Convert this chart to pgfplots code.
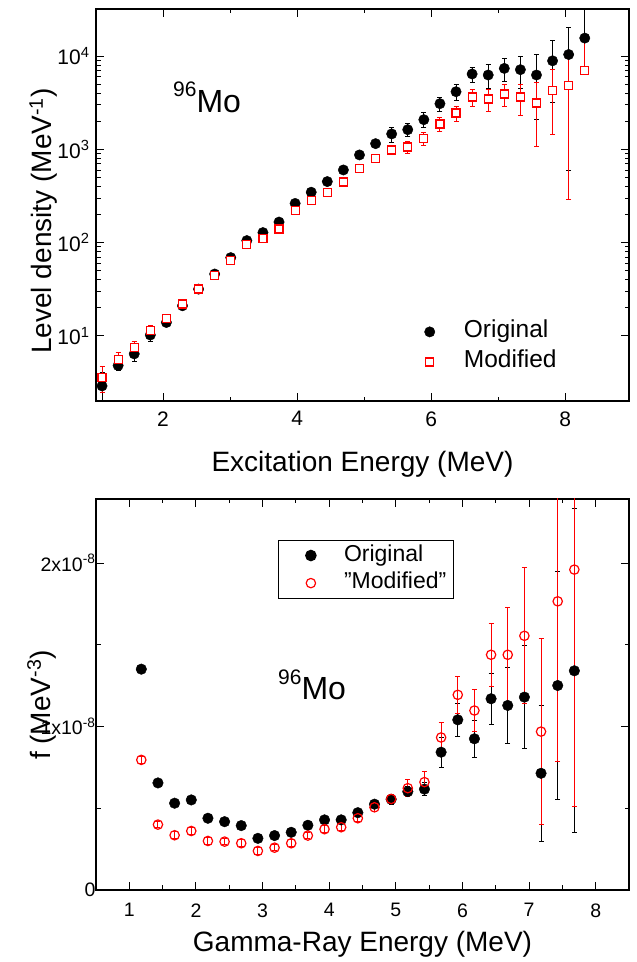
\documentclass[border=0pt]{standalone}
\usepackage{fontspec}
\setmainfont{Liberation Sans}
\usepackage{pgfplots}
\pgfplotsset{compat=1.18}
\usepackage{pgfplotstable}

% top panel: level density (MeV^-1)
\pgfplotstableread{
x     y      ep     em
1.09  2.9    1.1    1.1
1.33  4.8    0.6    0.6
1.57  6.4    1.1    1.1
1.81  10.2   1.5    1.5
2.05  13.9   1.3    1.3
2.29  21     1.6    1.6
2.53  31.7   2.5    2.5
2.77  46     3      3
3.01  69     4      4
3.25  105    6      6
3.49  128    8      8
3.73  166    10     10
3.97  263    18     18
4.21  347    25     25
4.45  451    35     35
4.69  601    50     50
4.93  871    70     70
5.17  1151   100    100
5.41  1463   270    270
5.65  1625   250    250
5.89  2080   380    380
6.13  3090   550    550
6.37  4150   800    800
6.61  6430   1200   1200
6.85  6270   1800   1800
7.09  7380   2100   2100
7.33  7150   2700   2700
7.57  6270   4200   4200
7.81  8900   5750   5750
8.05  10400  9850   9800
8.29  15600  20000  0
}\toporig
\pgfplotstableread{
x     y      ep     em
1.09  3.57   1.1    1.1
1.33  5.6    1.0    1.0
1.57  7.5    1.1    1.1
1.81  11.4   1.5    1.5
2.05  15.2   1.3    1.3
2.29  21.9   1.8    1.8
2.53  31.8   3.0    3.0
2.77  44.7   3.5    3.5
3.01  64     5      5
3.25  96     7      7
3.49  111    9      9
3.73  140    12     12
3.97  219    18     18
4.21  280    25     25
4.45  347    30     30
4.69  447    40     40
4.93  625    55     55
5.17  801    80     80
5.41  985    110    110
5.65  1060   150    150
5.89  1303   200    200
6.13  1870   320    320
6.37  2450   450    450
6.61  3650   740    740
6.85  3470   930    930
7.09  3930   1080   1080
7.33  3650   1350   1350
7.57  3140   2080   2080
7.81  4290   2830   2830
8.05  4850   4600   4560
8.29  7030   8600   0
}\topmod
% bottom panel: f (MeV^-3)
\pgfplotstableread{
x     y          e
1.18  1.351e-8   0.01e-8
1.43  0.655e-8   0.01e-8
1.68  0.531e-8   0.01e-8
1.93  0.551e-8   0.01e-8
2.18  0.439e-8   0.01e-8
2.43  0.418e-8   0.01e-8
2.68  0.394e-8   0.01e-8
2.93  0.316e-8   0.01e-8
3.18  0.333e-8   0.01e-8
3.43  0.353e-8   0.01e-8
3.68  0.396e-8   0.01e-8
3.93  0.429e-8   0.01e-8
4.18  0.429e-8   0.01e-8
4.43  0.473e-8   0.015e-8
4.68  0.525e-8   0.02e-8
4.93  0.555e-8   0.03e-8
5.18  0.602e-8   0.03e-8
5.43  0.617e-8   0.04e-8
5.68  0.843e-8   0.092e-8
5.93  1.041e-8   0.10e-8
6.18  0.925e-8   0.112e-8
6.43  1.170e-8   0.155e-8
6.68  1.129e-8   0.23e-8
6.93  1.180e-8   0.317e-8
7.18  0.714e-8   0.416e-8
7.43  1.251e-8   0.695e-8
7.68  1.341e-8   0.992e-8
}\botorig
\pgfplotstableread{
x     y          e
1.18  0.796e-8   0.02e-8
1.43  0.400e-8   0.02e-8
1.68  0.335e-8   0.02e-8
1.93  0.361e-8   0.02e-8
2.18  0.300e-8   0.02e-8
2.43  0.296e-8   0.02e-8
2.68  0.286e-8   0.02e-8
2.93  0.239e-8   0.02e-8
3.18  0.259e-8   0.02e-8
3.43  0.286e-8   0.02e-8
3.68  0.333e-8   0.02e-8
3.93  0.372e-8   0.02e-8
4.18  0.384e-8   0.02e-8
4.43  0.439e-8   0.02e-8
4.68  0.506e-8   0.025e-8
4.93  0.557e-8   0.03e-8
5.18  0.623e-8   0.05e-8
5.43  0.660e-8   0.065e-8
5.68  0.933e-8   0.09e-8
5.93  1.194e-8   0.112e-8
6.18  1.098e-8   0.13e-8
6.43  1.439e-8   0.194e-8
6.68  1.439e-8   0.288e-8
6.93  1.555e-8   0.415e-8
7.18  0.969e-8   0.568e-8
7.43  1.766e-8   0.98e-8
7.68  1.960e-8   1.45e-8
}\botmod

\pgfplotsset{
  common/.style={
    scale only axis, width=533pt,
    tick align=inside,
    major tick length=8pt, minor tick length=4.5pt,
    every tick/.style={black, line width=1pt},
    axis line style={line width=1.4pt},
    label style={font=\fontsize{28}{28}\selectfont},
    /pgf/number format/assume math mode=true,
  },
  eb/.style={error bars/.cd, y dir=both, y explicit,
    error bar style={line width=1pt, #1},
    error mark options={rotate=90, mark size=2.5pt, line width=1pt, #1}},
}

\begin{document}
\begin{tikzpicture}[x=1pt,y=1pt]
\useasboundingbox (0,0) rectangle (637,962);
% ---------------- top panel ----------------
\begin{axis}[common,
  at={(96pt,561pt)}, anchor=south west, height=392pt,
  xmin=1, xmax=8.95, ymode=log, ymin=2, ymax=32000,
  xtick={2,4,6,8}, minor xtick={3,5,7},
  ytick={10,100,1000,10000},
  yticklabels={10\textsuperscript{1},10\textsuperscript{2},10\textsuperscript{3},10\textsuperscript{4}},
  tick label style={font=\fontsize{21}{21}\selectfont},
  xticklabel style={yshift=-7pt},
  yticklabel style={xshift=-3pt},
  xlabel={Excitation Energy (MeV)},
  xlabel style={at={(axis description cs:0.5,-0.1786)}, anchor=base},
  ylabel={Level density (MeV\textsuperscript{-1})},
  ylabel style={at={(axis description cs:-0.0826,0.459)}, anchor=base},
  legend style={draw=none, fill=none, inner sep=0pt,
    at={(axis description cs:0.616,0.138)}, anchor=west,
    font=\fontsize{24.5}{24.5}\selectfont,
    nodes={inner sep=0pt, text height=18pt, text depth=6pt},
    row sep=6pt, column sep=29pt},
  legend cell align=left,
]
\addplot[only marks, mark=*, mark size=5.2pt, black, eb=black]
  table[x=x, y=y, y error plus=ep, y error minus=em]{\toporig};
\addlegendentry{Original}
\addplot[only marks, mark=square*, mark size=4pt, red, line width=1.2pt,
  mark options={fill=white}, eb=red]
  table[x=x, y=y, y error plus=ep, y error minus=em]{\topmod};
\addlegendentry{Modified}
\end{axis}
\node[anchor=base west, inner sep=0pt] at (173,849.3)
  {\fontsize{21}{21}\selectfont\raisebox{16pt}{96}\fontsize{32}{32}\selectfont Mo};
% ---------------- bottom panel ----------------
\begin{axis}[common,
  at={(96pt,72pt)}, anchor=south west, height=391pt,
  xmin=0.5, xmax=8.5, ymin=0, ymax=2.392e-8,
  xtick={1,2,3,4,5,6,7,8}, minor x tick num=1,
  ytick={0,1e-8,2e-8}, minor y tick num=1, scaled y ticks=false,
  yticklabels={0,1x10\textsuperscript{-8},2x10\textsuperscript{-8}},
  tick label style={font=\fontsize{19.5}{19.5}\selectfont},
  xticklabel style={yshift=-10pt},
  yticklabel style={xshift=3pt},
  xlabel={Gamma-Ray Energy (MeV)},
  xlabel style={at={(axis description cs:0.5,-0.158)}, anchor=base},
  ylabel={f (MeV\textsuperscript{-3})},
  ylabel style={at={(axis description cs:-0.0863,0.473)}, anchor=base},
  legend style={draw=black, line width=1pt, fill=white, inner xsep=7pt, inner ysep=3.5pt,
    at={(axis description cs:0.341,0.8951)}, anchor=north west,
    font=\fontsize{23}{23}\selectfont,
    nodes={inner sep=0pt, text height=17pt, text depth=6pt},
    row sep=4.6pt, column sep=24pt},
  legend cell align=left,
  legend image code/.code={\path (-16.5pt,0pt) (0.6cm,0pt);
    \draw[mark repeat=2,mark phase=2,#1] plot coordinates {(0cm,0cm) (0.3cm,0cm) (0.6cm,0cm)};},
]
\addplot[only marks, mark=*, mark size=5.3pt, black, eb=black]
  table[x=x, y=y, y error=e]{\botorig};
\addlegendentry{Original}
\addplot[only marks, mark=o, mark size=4.7pt, red, line width=1.2pt,
  mark options={fill=white}, eb=red]
  table[x=x, y=y, y error=e]{\botmod};
\addlegendentry{\symbol{34}Modified\symbol{34}}
\end{axis}
\node[anchor=base west, inner sep=0pt] at (278,262.7)
  {\fontsize{21}{21}\selectfont\raisebox{15pt}{96}\fontsize{32}{32}\selectfont Mo};
\end{tikzpicture}
\end{document}
